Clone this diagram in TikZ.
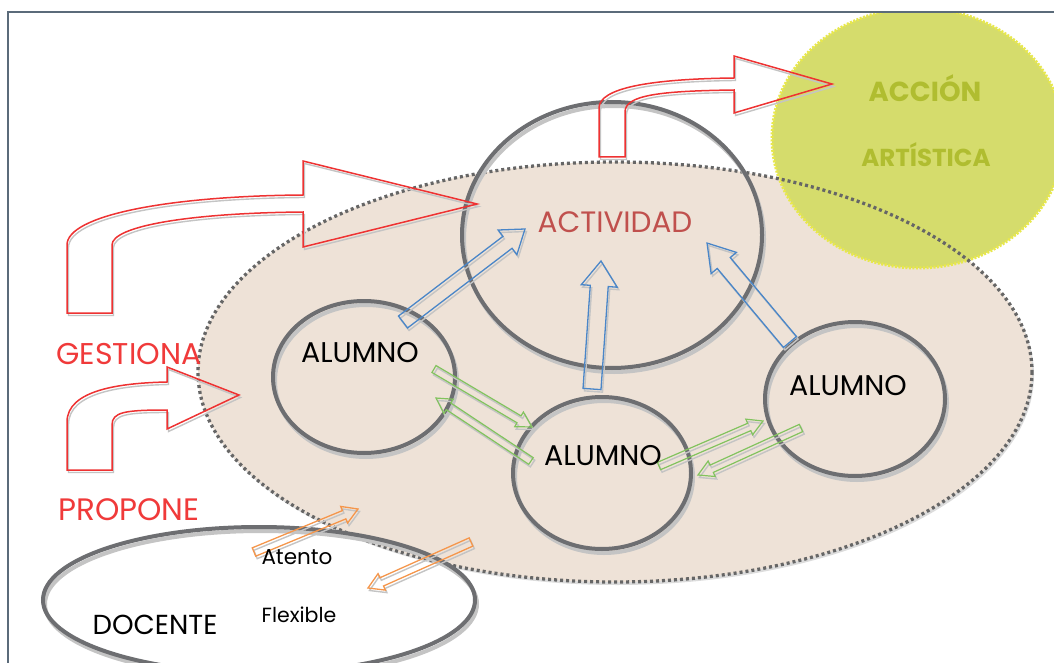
\documentclass[tikz,border=0pt]{standalone}
\usepackage{fontspec}
\setmainfont{Poppins}
\usetikzlibrary{calc}
\definecolor{framecol}{HTML}{5B6B7A}
\definecolor{tanfill}{HTML}{EEE2D7}
\definecolor{dotgray}{HTML}{666666}
\definecolor{ringgray}{HTML}{6D6E71}
\definecolor{shadowgray}{HTML}{C4C4C4}
\definecolor{redline}{HTML}{EE3232}
\definecolor{redtext}{HTML}{F03A3A}
\definecolor{acttext}{HTML}{C0504D}
\definecolor{blueline}{HTML}{4A86C8}
\definecolor{greenline}{HTML}{82C35E}
\definecolor{orangeline}{HTML}{F5964B}
\definecolor{artfill}{HTML}{D5DC6C}
\definecolor{artborder}{HTML}{E8E84C}
\definecolor{arttext}{HTML}{B0BD30}
\tikzset{
  ring/.style={draw=ringgray, line width=4pt},
  ringshadow/.style={draw=shadowgray, line width=4pt},
  outlineshadow/.style={draw=shadowgray, line width=1.4pt},
  redarrow/.style={draw=redline, line width=1.5pt, line join=miter},
  bluearrow/.style={draw=blueline, line width=1.3pt},
  greenarrow/.style={draw=greenline, line width=1.2pt},
  orangearrow/.style={draw=orangeline, line width=1.3pt},
  lbl/.style={anchor=base, inner sep=0pt},
}
% block arrow: #1 style, #2 tail, #3 tip, #4 shaft width, #5 head width, #6 head length
\newcommand\blockarrow[6]{%
  \path let \p1=(#2), \p2=(#3), \n1={atan2(\y2-\y1,\x2-\x1)}, \n2={veclen(\x2-\x1,\y2-\y1)} in
    \pgfextra{\xdef\baang{\n1}\xdef\balen{\n2}\xdef\bax{\x1}\xdef\bay{\y1}};
  \begin{scope}[shift={({\bax+1.5pt},{\bay-2.5pt})}, rotate=\baang]
    \draw[outlineshadow] (0,{-#4/2}) -- ({\balen-#6},{-#4/2}) -- ({\balen-#6},{-#5/2}) -- ({\balen},0) -- ({\balen-#6},{#5/2}) -- ({\balen-#6},{#4/2}) -- (0,{#4/2}) -- cycle;
  \end{scope}
  \begin{scope}[shift={(\bax,\bay)}, rotate=\baang]
    \draw[#1] (0,{-#4/2}) -- ({\balen-#6},{-#4/2}) -- ({\balen-#6},{-#5/2}) -- ({\balen},0) -- ({\balen-#6},{#5/2}) -- ({\balen-#6},{#4/2}) -- (0,{#4/2}) -- cycle;
  \end{scope}}
\begin{document}
\begin{tikzpicture}[x=1pt, y=-1pt]
\useasboundingbox (0,0) rectangle (1054,663);
\fill[white] (0,0) rectangle (1054,663);

% big tan ellipse (fill)
\fill[shadowgray!60] (617,375) ellipse [x radius=417, y radius=210];
\fill[tanfill] (615,372) ellipse [x radius=417, y radius=210];

% ACCION ARTISTICA circle
\begin{scope}
  \clip (9,13) rectangle (1054,663);
  \draw[artborder, fill=artfill, line width=3pt, dash pattern=on 2pt off 1.5pt] (918,138) ellipse [x radius=146, y radius=130];
\end{scope}

% dotted border of the tan ellipse
\draw[dotgray, line width=3.3pt, dash pattern=on 3pt off 3pt] (615,372) ellipse [x radius=417, y radius=210];

% frame
\draw[framecol, line width=2pt] (8,663) -- (8,12) -- (1054,12);

% grey rings with shadows
\foreach \cx/\cy/\rx/\ry in {612/235/150/133, 364/377/91/76, 602/473/89/76, 855/399/90/77, 259/600/216/73}{
  \draw[ringshadow] (\cx+2,\cy+4) ellipse [x radius=\rx, y radius=\ry];
  \draw[ring] (\cx,\cy) ellipse [x radius=\rx, y radius=\ry];
}

% red bent arrows
\def\arrowA{(67,313) -- (67,245) .. controls (67,215) and (170,196) .. (303,195) -- (303,161) -- (477,204) -- (303,247) -- (303,212) .. controls (190,213) and (112,226) .. (112,245) -- (112,313) -- cycle}
\def\arrowB{(67,470) -- (67,422) .. controls (67,390) and (120,383) .. (167,382) -- (167,367) -- (239,395) -- (167,429) -- (167,410) .. controls (125,410) and (112,412) .. (112,425) -- (112,470) -- cycle}
\def\arrowC{(599,157) -- (599,108) .. controls (599,88) and (650,79) .. (734,78) -- (734,56) -- (832,84) -- (734,113) -- (734,90) .. controls (660,91) and (625,95) .. (625,112) -- (625,157) -- cycle}
\draw[outlineshadow, shift={(1.5,2.5)}] \arrowA;
\draw[redarrow] \arrowA;
\draw[outlineshadow, shift={(1.5,2.5)}] \arrowB;
\draw[redarrow] \arrowB;
\draw[outlineshadow, shift={(1.5,2.5)}] \arrowC;
\draw[redarrow] \arrowC;

% straight block arrows
\coordinate (b1t) at (403,322); \coordinate (b1h) at (525,229);
\coordinate (b2t) at (592,389); \coordinate (b2h) at (601,261);
\coordinate (b3t) at (790,342); \coordinate (b3h) at (707,243);
\coordinate (g1t) at (434,369); \coordinate (g1h) at (532,427);
\coordinate (g2t) at (531,461); \coordinate (g2h) at (436,398);
\coordinate (g3t) at (659,466); \coordinate (g3h) at (763,421);
\coordinate (g4t) at (801,428); \coordinate (g4h) at (698,475);
\coordinate (o1t) at (254,552); \coordinate (o1h) at (358,509);
\coordinate (o2t) at (471,542); \coordinate (o2h) at (368,588);
\blockarrow{bluearrow}{b1t}{b1h}{15}{31}{22}
\blockarrow{bluearrow}{b2t}{b2h}{18}{36}{25}
\blockarrow{bluearrow}{b3t}{b3h}{17}{33}{26}
\blockarrow{greenarrow}{g1t}{g1h}{8}{17}{15}
\blockarrow{greenarrow}{g2t}{g2h}{8}{17}{15}
\blockarrow{greenarrow}{g3t}{g3h}{8}{17}{15}
\blockarrow{greenarrow}{g4t}{g4h}{8}{17}{15}
\blockarrow{orangearrow}{o1t}{o1h}{9}{18}{15}
\blockarrow{orangearrow}{o2t}{o2h}{9}{18}{15}

% texts
\node[lbl, text=acttext, font=\fontsize{29.5}{32}\selectfont] (tact) at (615,233) {ACTIVIDAD};
\node[lbl, font=\fontsize{28.5}{32}\selectfont] (tal1) at (360,362) {ALUMNO};
\node[lbl, font=\fontsize{28.5}{32}\selectfont] (tal2) at (603,465) {ALUMNO};
\node[lbl, font=\fontsize{28.5}{32}\selectfont] (tal3) at (848,395) {ALUMNO};
\node[lbl, text=redtext, font=\fontsize{30}{32}\selectfont] (tges) at (129,364) {GESTIONA};
\node[lbl, text=redtext, font=\fontsize{31}{34}\selectfont] (tpro) at (129,520) {PROPONE};
\node[lbl, font=\fontsize{27.5}{30}\selectfont] (tdoc) at (155,634) {DOCENTE};
\node[lbl, font=\fontsize{21.5}{24}\selectfont] (tate) at (297,564) {Atento};
\node[lbl, font=\fontsize{20.5}{24}\selectfont] (tfle) at (299,622) {Flexible};
\node[lbl, text=arttext, font=\bfseries\fontsize{27.5}{30}\selectfont] (tacc) at (925,102) {ACCIÓN};
\node[lbl, text=arttext, font=\bfseries\fontsize{24.5}{30}\selectfont] (tart) at (926,167) {ARTÍSTICA};
\end{tikzpicture}
\end{document}
